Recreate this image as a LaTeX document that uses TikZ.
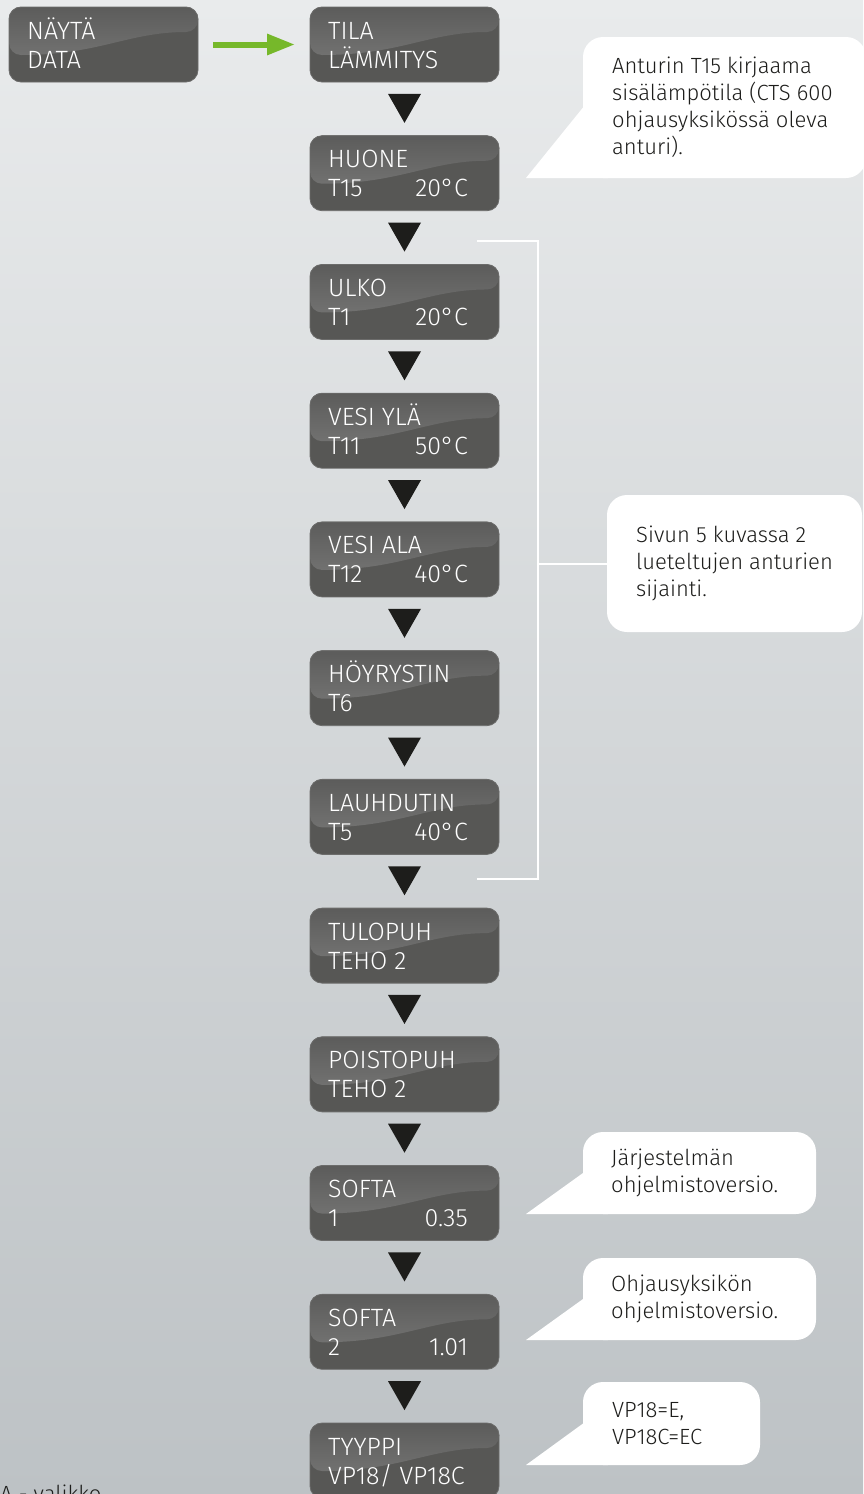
\documentclass[tikz,border=0pt]{standalone}
\usepackage{fontspec}
\setmainfont{Fira Sans Light}
\usetikzlibrary{arrows.meta,calc}

\definecolor{bgtop}{HTML}{E9EBEC}
\definecolor{bgbot}{HTML}{BDC2C5}
\definecolor{screenlow}{HTML}{575755}
\definecolor{screentop}{HTML}{5C5C5B}
\definecolor{screenmid}{HTML}{7D7D7C}
\definecolor{screenedge}{HTML}{6C6C6B}
\definecolor{marker}{HTML}{1D1D1B}
\definecolor{go}{HTML}{76B82A}

\tikzset{
  display/.style={minimum width=189pt, minimum height=75pt, rounded corners=12pt,
    fill=screenlow, draw=screenedge, line width=0.8pt, inner sep=0pt, outer sep=0pt,
    path picture={\fill[top color=screentop, bottom color=screenmid]
      (path picture bounding box.north west) -- (path picture bounding box.north east)
      -- ([yshift=-25pt]path picture bounding box.north east)
      .. controls +(-70pt,0pt) and +(90pt,0pt) .. ([yshift=-48pt]path picture bounding box.north west)
      -- cycle;}},
  rowtext/.style={inner sep=0pt, text=white, font=\fontsize{25}{29}\selectfont},
  firstrow/.style={rowtext, anchor=base west, xshift=18pt, yshift=-32pt},
  secondrow/.style={rowtext, anchor=base west, xshift=18pt, yshift=-61pt},
  valuerow/.style={rowtext, anchor=base east, xshift=-31pt, yshift=-61pt},
  note/.style={fill=white, rounded corners=20pt, inner sep=0pt, outer sep=0pt},
  notetext/.style={anchor=west, align=left, inner sep=0pt, text=marker,
    font=\fontsize{22}{27}\selectfont},
  bracket/.style={draw=white, line width=2pt},
}

\begin{document}
\begin{tikzpicture}[x=1pt,y=-1pt]
  % background
  \useasboundingbox (0,0) rectangle (863,1494);
  \fill[top color=bgtop, bottom color=bgbot] (0,0) rectangle (863,1494);

  % start screen
  \node[display] (data) at (103.5,44.5) {};
  \node[firstrow] at (data.north west) {NÄYTÄ};
  \node[secondrow] at (data.north west) {DATA};

  % menu screens
  \foreach \n/\a/\b/\v [count=\i from 0] in {tila/TILA/LÄMMITYS/{}, huone/HUONE/T15/20°C,
      ulko/ULKO/T1/20°C, ylavesi/VESI YLÄ/T11/50°C, alavesi/VESI ALA/T12/40°C,
      hoyrystin/HÖYRYSTIN/T6/{}, lauhdutin/LAUHDUTIN/T5/40°C, tulopuh/TULOPUH/TEHO 2/{},
      poistopuh/POISTOPUH/TEHO 2/{}, softa1/SOFTA/1/0.35, softa2/SOFTA/2/1.01,
      tyyppi/TYYPPI/{VP18/ VP18C}/{}} {
    \node[display] (\n) at (404.5,44.5+128.73*\i) {};
    \node[firstrow] at (\n.north west) {\a};
    \node[secondrow] at (\n.north west) {\b};
    \node[valuerow] at (\n.north east) {\v};
  }

  % step markers
  \foreach \a/\b in {tila/huone, huone/ulko, ulko/ylavesi, ylavesi/alavesi, alavesi/hoyrystin,
      hoyrystin/lauhdutin, lauhdutin/tulopuh, tulopuh/poistopuh, poistopuh/softa1,
      softa1/softa2, softa2/tyyppi}
    \fill[marker] ($(\a.south)!0.5!(\b.north)$) +(-16.5,-15) -- +(16.5,-15) -- +(0,14) -- cycle;

  \draw[go, line width=6pt, shorten <=15pt, shorten >=15pt, -{Triangle[length=28pt,width=20pt]}]
    (data.east) -- (tila.west);

  % callouts
  \node[note, minimum width=283pt, minimum height=141pt] (anturi) at (724.5,107.5) {};
  \node[notetext] at ([xshift=29pt]anturi.west) {Anturin T15 kirjaama\\sisälämpötila (CTS 600\\ohjausyksikössä oleva\\anturi).};
  \node[note, minimum width=255pt, minimum height=137pt] (sijainti) at (734.5,563.5) {};
  \node[notetext] at ([xshift=29pt]sijainti.west) {Sivun 5 kuvassa 2\\lueteltujen anturien\\sijainti.};
  \node[note, minimum width=233pt, minimum height=82pt] (jarjestelma) at (699.5,1173) {};
  \node[notetext] at ([xshift=28pt]jarjestelma.west) {Järjestelmän\\ohjelmistoversio.};
  \node[note, minimum width=233pt, minimum height=82pt] (ohjaus) at (699.5,1299) {};
  \node[notetext] at ([xshift=28pt]ohjaus.west) {Ohjausyksikön\\ohjelmistoversio.};
  \node[note, minimum width=177pt, minimum height=83pt] (tyyppinote) at (671.5,1423.5) {};
  \node[notetext] at ([xshift=29pt]tyyppinote.west) {VP18=E,\\VP18C=EC};
  \foreach \c in {anturi, jarjestelma, ohjaus, tyyppinote}
    \fill[white] (\c.west) -- ([xshift=-57pt]\c.south west) -- ([xshift=25pt]\c.south west) -- cycle;

  % sensor bracket
  \coordinate (brtop) at (477,241);
  \coordinate (brbot) at (477,879);
  \coordinate (brx) at (538,0);
  \draw[bracket] (brtop) -- (brtop -| brx) -- (brbot -| brx) -- (brbot);
  \draw[bracket] (sijainti.west) -- (sijainti.west -| brx);

  \node[notetext, anchor=base west] (caption) at (0,1501) {A - valikko};
\end{tikzpicture}
\end{document}
